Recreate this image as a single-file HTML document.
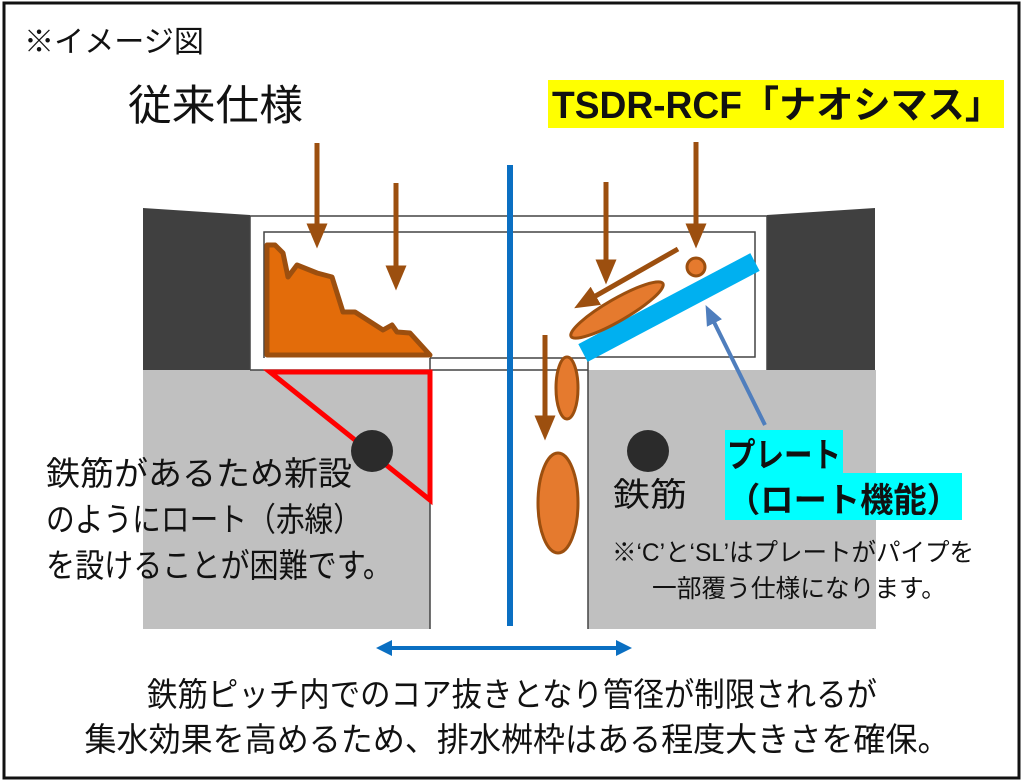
<!DOCTYPE html>
<html><head><meta charset="utf-8"><style>
html,body{margin:0;padding:0;background:#fff;}
svg{display:block;}
text{font-family:"Liberation Sans","Noto Sans CJK JP",sans-serif;fill:#111;}
</style></head><body>
<svg width="1024" height="783" viewBox="0 0 1024 783" xmlns="http://www.w3.org/2000/svg">
<defs>
<marker id="br" markerWidth="5" markerHeight="5" refX="2.5" refY="2.5" orient="auto" markerUnits="strokeWidth"><path d="M0,0.4 L5,2.5 L0,4.6z" fill="#9c4f0f"/></marker>
<marker id="bl" markerWidth="5" markerHeight="5" refX="2.5" refY="2.5" orient="auto" markerUnits="strokeWidth"><path d="M0,0.4 L5,2.5 L0,4.6z" fill="#4f7ebd"/></marker>
<marker id="bb" markerWidth="4" markerHeight="4" refX="3" refY="2" orient="auto-start-reverse" markerUnits="strokeWidth"><path d="M0,0 L4,2 L0,4z" fill="#0a6fc2"/></marker>
</defs>
<rect x="4" y="3" width="1015" height="775" fill="#fff" stroke="#111" stroke-width="3"/>
<polygon points="143,208 250,215 250,370 143,370" fill="#404040"/>
<polygon points="767,215 875,208 875,370 767,370" fill="#404040"/>
<rect x="143" y="370" width="287" height="259" fill="#c0c0c0"/>
<rect x="588" y="370" width="288" height="259" fill="#c0c0c0"/>
<g stroke="#444" stroke-width="1.5" fill="none">
<line x1="250" y1="216" x2="767" y2="216"/>
<line x1="250" y1="216" x2="250" y2="370"/>
<line x1="767" y1="216" x2="767" y2="370"/>
<line x1="250" y1="370" x2="588" y2="370"/>
<polyline points="264,358 264,232 755,232 755,357 588,357"/>
<line x1="430" y1="358" x2="588" y2="358"/>
<line x1="430" y1="358" x2="430" y2="629"/>
<line x1="588" y1="357" x2="588" y2="629"/>
</g>
<polygon points="267,245 275,245 283,253 288,277 297,265 317,273 332,277 343,312 355,312 383,330 392,325 397,332 410,333 430,355 267,355" fill="#e36c0a" stroke="#9c4f0f" stroke-width="5" stroke-linejoin="round"/>
<polygon points="270,372 430,372 430,500" fill="none" stroke="#ff0000" stroke-width="5"/>
<circle cx="372" cy="451" r="21" fill="#2b2b2b"/>
<circle cx="648" cy="451" r="21" fill="#2b2b2b"/>
<line x1="510" y1="165" x2="510" y2="626" stroke="#0a6fc2" stroke-width="6"/>
<g stroke="#9c4f0f" stroke-width="5" fill="none">
<line x1="317" y1="143" x2="317" y2="236" marker-end="url(#br)"/>
<line x1="396" y1="183" x2="396" y2="278" marker-end="url(#br)"/>
<line x1="606" y1="182" x2="606" y2="272" marker-end="url(#br)"/>
<line x1="696" y1="142" x2="696" y2="236" marker-end="url(#br)"/>
<line x1="678" y1="249" x2="585" y2="302" marker-end="url(#br)"/>
<line x1="545" y1="335" x2="545" y2="428" marker-end="url(#br)"/>
</g>
<line x1="583" y1="353" x2="755" y2="262" stroke="#00b0f0" stroke-width="20"/>
<g fill="#e57a2e" stroke="#9c4f0f" stroke-width="3">
<circle cx="696" cy="267" r="9"/>
<ellipse cx="617" cy="310" rx="53" ry="11" transform="rotate(-30 617 310)"/>
<ellipse cx="567" cy="388" rx="11" ry="31"/>
<ellipse cx="558" cy="503" rx="20" ry="50"/>
</g>
<line x1="765" y1="425" x2="710" y2="314" stroke="#4f7ebd" stroke-width="4" marker-end="url(#bl)"/>
<line x1="380" y1="648" x2="628" y2="648" stroke="#0a6fc2" stroke-width="4" marker-start="url(#bb)" marker-end="url(#bb)"/>
<rect x="548" y="80" width="456" height="48" fill="#ffff00"/>
<rect x="725" y="430" width="118" height="44" fill="#00ffff"/>
<rect x="725" y="473" width="237" height="47" fill="#00ffff"/>
<text x="24" y="52" font-size="30" textLength="180" lengthAdjust="spacingAndGlyphs">※イメージ図</text>
<text x="128" y="120" font-size="42" textLength="175" lengthAdjust="spacingAndGlyphs">従来仕様</text>
<text x="552" y="118" font-size="38" font-weight="bold" textLength="450" lengthAdjust="spacingAndGlyphs">TSDR-RCF「ナオシマス」</text>
<text x="727" y="467" font-size="34" font-weight="bold" textLength="114" lengthAdjust="spacingAndGlyphs">プレート</text>
<text x="727" y="512" font-size="34" font-weight="bold" textLength="233" lengthAdjust="spacingAndGlyphs">（ロート機能）</text>
<text x="46" y="485" font-size="33" textLength="306" lengthAdjust="spacingAndGlyphs">鉄筋があるため新設</text>
<text x="46" y="531" font-size="33" textLength="316" lengthAdjust="spacingAndGlyphs">のようにロート（赤線）</text>
<text x="46" y="577" font-size="33" textLength="346" lengthAdjust="spacingAndGlyphs">を設けることが困難です。</text>
<text x="613" y="506" font-size="33" textLength="74" lengthAdjust="spacingAndGlyphs">鉄筋</text>
<text x="612" y="561" font-size="25" textLength="362" lengthAdjust="spacingAndGlyphs">※‘C’と‘SL’はプレートがパイプを</text>
<text x="652" y="597" font-size="25" textLength="294" lengthAdjust="spacingAndGlyphs">一部覆う仕様になります。</text>
<text x="512" y="706" font-size="33" text-anchor="middle" textLength="730" lengthAdjust="spacingAndGlyphs">鉄筋ピッチ内でのコア抜きとなり管径が制限されるが</text>
<text x="517" y="751" font-size="33" text-anchor="middle" textLength="865" lengthAdjust="spacingAndGlyphs">集水効果を高めるため、排水桝枠はある程度大きさを確保。</text>
</svg>
</body></html>
